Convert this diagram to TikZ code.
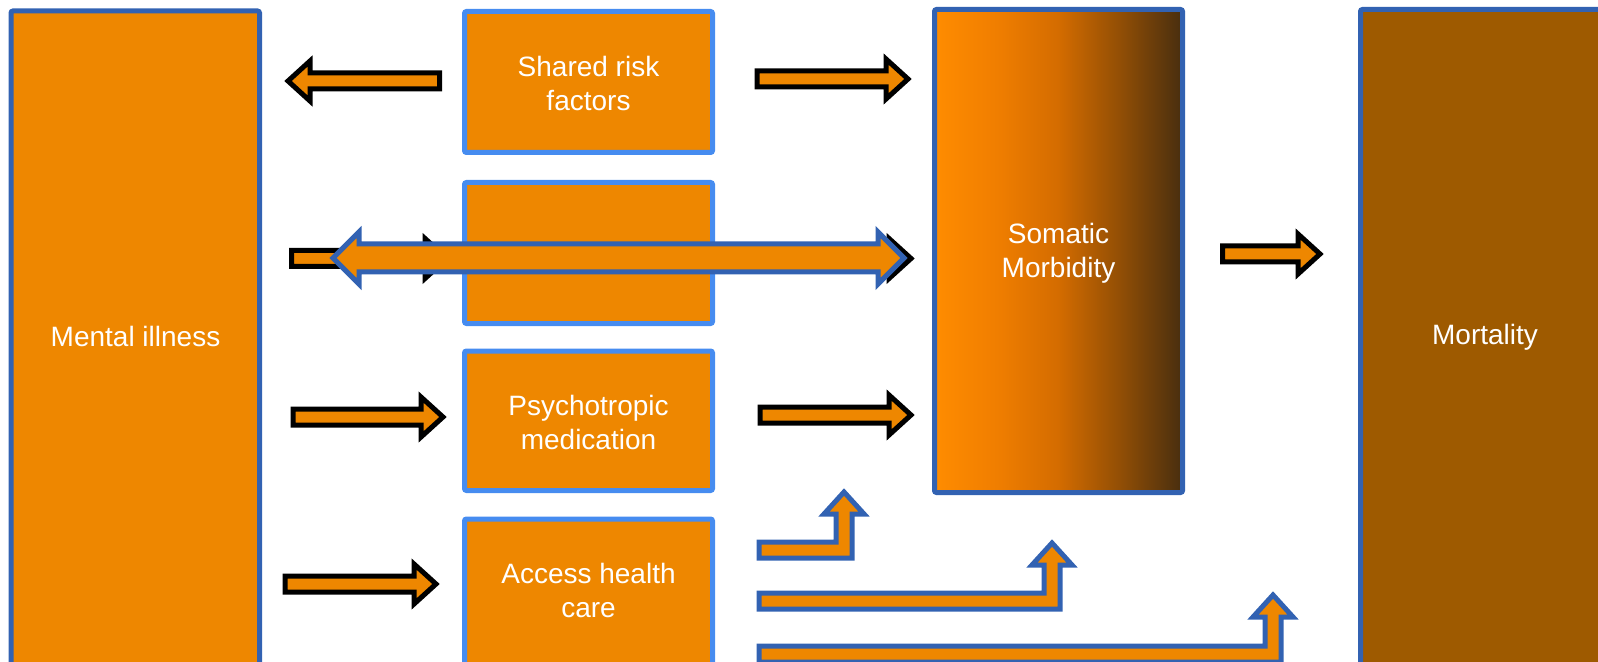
\documentclass[tikz,border=0pt]{standalone}
\usepackage{fontspec}
\setmainfont{Liberation Sans}
\definecolor{orfill}{RGB}{238,135,0}
\definecolor{dblue}{RGB}{50,98,178}
\definecolor{lblue}{RGB}{70,140,240}
\definecolor{mort}{RGB}{158,90,0}
\definecolor{sa}{RGB}{255,140,0}
\definecolor{sb}{RGB}{240,126,0}
\definecolor{sc}{RGB}{212,108,0}
\definecolor{sd}{RGB}{145,78,5}
\definecolor{se}{RGB}{72,46,15}
\pgfdeclarehorizontalshading{somshade}{100bp}{color(0bp)=(sa); color(25bp)=(sa); color(37.5bp)=(sb); color(50bp)=(sc); color(62.5bp)=(sd); color(75bp)=(se); color(100bp)=(se)}
\tikzset{
  bigbox/.style={draw=dblue, line width=2.5pt, fill=orfill, rounded corners=1pt},
  midbox/.style={draw=lblue, line width=2.5pt, fill=orfill, rounded corners=1pt},
  blk/.style={draw=black, line width=2.5pt, fill=orfill, line join=miter},
  blu/.style={draw=dblue, line width=2.5pt, fill=orfill, line join=miter},
  lbl/.style={text=white, font=\fontsize{14pt}{17pt}\selectfont, align=center, inner sep=0pt}
}
% right block arrow: tail x, tip x, y
\newcommand{\RArr}[4][blk]{\draw[#1] (#2,#4-8) -- (#3-22,#4-8) -- (#3-22,#4-20) -- (#3,#4) -- (#3-22,#4+20) -- (#3-22,#4+8) -- (#2,#4+8) -- cycle;}
\newcommand{\LArr}[4][blk]{\draw[#1] (#2,#4-8) -- (#3+22,#4-8) -- (#3+22,#4-20) -- (#3,#4) -- (#3+22,#4+20) -- (#3+22,#4+8) -- (#2,#4+8) -- cycle;}
% bent arrow: tail x, shaft y, vertical x, tip y
\newcommand{\BArr}[4]{\draw[blu] (#1,#2-8) -- (#3-8,#2-8) -- (#3-8,#4+22) -- (#3-20,#4+22) -- (#3,#4) -- (#3+20,#4+22) -- (#3+8,#4+22) -- (#3+8,#2+8) -- (#1,#2+8) -- cycle;}
\begin{document}
\begin{tikzpicture}[x=0.5pt,y=-0.5pt]
\useasboundingbox (0,0) rectangle (1598,662);
% boxes
\draw[bigbox] (11,11) rectangle (259.5,680);
\draw[midbox] (464.5,11.5) rectangle (712.5,152.5);
\draw[midbox] (464.5,182.5) rectangle (712.5,323.5);
\draw[midbox] (464.5,351) rectangle (712.5,490.5);
\draw[midbox] (464.5,519) rectangle (712.5,680);
\draw[draw=dblue, line width=2.5pt, rounded corners=1pt, shading=somshade] (934.5,9.5) rectangle (1182.5,492.5);
\draw[bigbox, fill=mort] (1360.5,9.5) rectangle (1620,680);
% labels
\node[lbl] (mental) at (135.5,336) {Mental illness};
\node[lbl] (shared) at (588.5,83.5) {Shared risk\\factors};
\node[lbl] (psych) at (588.5,422) {Psychotropic\\medication};
\node[lbl] (access) at (588.5,590.5) {Access health\\care};
\node[lbl] (somatic) at (1058.5,253) {Somatic\\Morbidity};
\node[lbl] (mortality) at (1485,337) {Mortality};
% black arrows
\LArr{439.5}{288}{81}
\RArr{757}{908}{79}
\RArr{291.5}{447}{258.5}
\RArr{757}{911}{258.5}
\RArr{293}{443}{417}
\RArr{760}{911}{415}
\RArr{285}{436}{584}
\RArr{1222.5}{1320}{254}
% double arrow
\draw[blu] (333,258) -- (359,232) -- (359,244) -- (878,244) -- (878,232) -- (904,258) -- (878,284) -- (878,272) -- (359,272) -- (359,284) -- cycle;
% bent arrows
\BArr{759}{550}{844}{492}
\BArr{759}{601}{1052}{543}
\BArr{759}{654}{1273}{595}
\end{tikzpicture}
\end{document}
